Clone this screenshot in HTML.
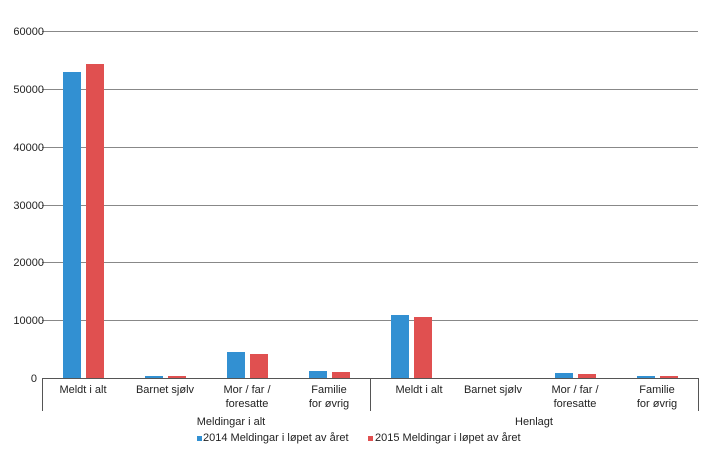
<!DOCTYPE html>
<html><head><meta charset="utf-8"><style>body{margin:0;background:#fff}svg{display:block}text{font-family:"Liberation Sans",sans-serif;font-size:11px;fill:#222}</style></head><body>
<svg width="719" height="461" xmlns="http://www.w3.org/2000/svg">
<g stroke="#888" stroke-width="1">
<line x1="42" y1="31.5" x2="698" y2="31.5"/><line x1="42" y1="89.5" x2="698" y2="89.5"/><line x1="42" y1="147.5" x2="698" y2="147.5"/><line x1="42" y1="205.5" x2="698" y2="205.5"/><line x1="42" y1="262.5" x2="698" y2="262.5"/><line x1="42" y1="320.5" x2="698" y2="320.5"/>
</g>
<g text-anchor="end">
<text x="44" y="35">60000</text><text x="44" y="93">50000</text><text x="44" y="151">40000</text><text x="44" y="209">30000</text><text x="44" y="266">20000</text><text x="44" y="324">10000</text><text x="37" y="382">0</text>
</g>
<g fill="#3290d2">
<rect x="63" y="72" width="18" height="306"/><rect x="145" y="376" width="18" height="2"/><rect x="227" y="352" width="18" height="26"/><rect x="309" y="371" width="18" height="7"/>
<rect x="391" y="315" width="18" height="63"/><rect x="555" y="373" width="18" height="5"/><rect x="637" y="376" width="18" height="2"/>
</g>
<g fill="#e05050">
<rect x="86" y="64" width="18" height="314"/><rect x="168" y="376" width="18" height="2"/><rect x="250" y="354" width="18" height="24"/><rect x="332" y="372" width="18" height="6"/>
<rect x="414" y="317" width="18" height="61"/><rect x="578" y="374" width="18" height="4"/><rect x="660" y="376" width="18" height="2"/>
</g>
<g stroke="#555" stroke-width="1">
<line x1="42" y1="378.5" x2="698" y2="378.5"/>
<line x1="42.5" y1="378" x2="42.5" y2="411"/><line x1="370.5" y1="378" x2="370.5" y2="411"/><line x1="698.5" y1="378" x2="698.5" y2="411"/>
</g>
<g text-anchor="middle">
<text x="83" y="393">Meldt i alt</text><text x="165" y="393">Barnet sjølv</text><text x="247" y="393">Mor / far /</text><text x="247" y="407">foresatte</text><text x="329" y="393">Familie</text><text x="329" y="407">for øvrig</text>
<text x="419" y="393">Meldt i alt</text><text x="493" y="393">Barnet sjølv</text><text x="575" y="393">Mor / far /</text><text x="575" y="407">foresatte</text><text x="657" y="393">Familie</text><text x="657" y="407">for øvrig</text>
<text x="231" y="425">Meldingar i alt</text><text x="534" y="425">Henlagt</text>
</g>
<rect x="197" y="436" width="5" height="5" fill="#3290d2"/><text x="203" y="441">2014 Meldingar i løpet av året</text>
<rect x="368" y="436" width="5" height="5" fill="#e05050"/><text x="375" y="441">2015 Meldingar i løpet av året</text>
</svg>
</body></html>
